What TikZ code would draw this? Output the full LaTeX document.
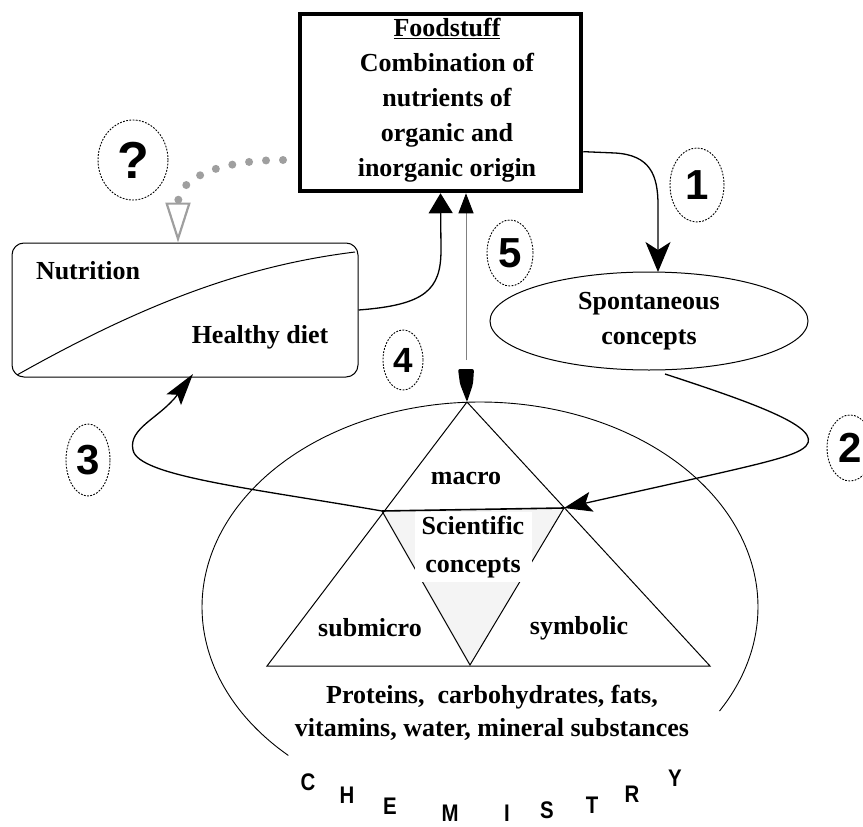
\documentclass[tikz,border=0pt]{standalone}
\usepackage{fontspec}
\setmainfont{Liberation Serif}
\newfontfamily\digitfont{Liberation Sans}
\usetikzlibrary{arrows.meta,shapes.geometric}
\begin{document}
\begin{tikzpicture}[x=1pt,y=-1pt,
  txt/.style={font=\fontsize{26}{34}\selectfont\bfseries, align=center, inner sep=0pt},
  numc/.style={draw, ellipse, dash pattern=on 1.8pt off 1.4pt, line width=0.9pt, inner sep=0pt,
    font=\digitfont\bfseries\fontsize{42}{42}\selectfont},
  conn/.style={line width=1.3pt},
  thinline/.style={line width=1pt},
  chem/.style={font=\digitfont\bfseries\fontsize{24}{24}\selectfont, inner sep=0pt, xscale=0.85}
]
\useasboundingbox (0,0) rectangle (863,827);

% ---- main box
\node[draw, line width=4.5pt, minimum width=281pt, minimum height=177pt, inner sep=0pt] (food) at (440.5,102.5) {};
\node[txt, font=\fontsize{26}{35}\selectfont\bfseries] (foodtext) at (447,100)
  {\underline{Foodstuff}\\Combination of\\nutrients of\\organic and\\inorganic origin};

% ---- nutrition box
\node[draw, rounded corners=12pt, minimum width=346pt, minimum height=134pt, line width=1pt, inner sep=0pt] (nutr) at (185,310) {};
\draw[thinline] (17,375) .. controls (150,300) and (250,265) .. (355,252);
\node[txt] (nutrition) at (88,271) {Nutrition};
\node[txt] (healthy) at (260,337) {Healthy diet};

% ---- spontaneous concepts
\node[draw, ellipse, line width=1pt, minimum width=318pt, minimum height=98pt, inner sep=0pt,
  txt, font=\fontsize{26}{35}\selectfont\bfseries] (spont) at (649,321) {Spontaneous\\concepts};

% ---- numbered circles
\node[numc, minimum width=70pt, minimum height=80pt, font=\digitfont\bfseries\fontsize{52}{52}\selectfont] (cq) at (133,160) {?};
\node[numc, minimum width=54pt, minimum height=74pt] (c1) at (697,185) {1};
\node[numc, minimum width=46pt, minimum height=66pt] (c2) at (850,448) {2};
\node[numc, minimum width=44pt, minimum height=72pt] (c3) at (88,460) {3};
\node[numc, minimum width=40pt, minimum height=60pt, font=\digitfont\bfseries\fontsize{35}{35}\selectfont] (c4) at (403,360) {4};
\node[numc, minimum width=46pt, minimum height=66pt] (c5) at (510,253) {5};

% ---- triangle coordinates
\coordinate (apex) at (467,402);
\coordinate (BL) at (267,666);
\coordinate (BR) at (710,666);
\coordinate (ML) at (382,511);
\coordinate (MR) at (564,508);
\coordinate (MB) at (470,665);

% big ellipse arc (chemistry)
\draw[line width=0.9pt] plot[domain=-30.5:226.4, samples=90, smooth, variable=\t]
  ({480+278*cos(\t)}, {607-205*sin(\t)});

% triangle
\fill[gray!9] (ML) -- (MR) -- (MB) -- cycle;
\draw[thinline] (BL) -- (apex) -- (BR) -- cycle;
\draw[thinline] (ML) -- (MB) -- (MR);
\draw[line width=1.6pt] (ML) -- (MR);
\node[txt, fill=white, minimum width=117pt, minimum height=70pt, font=\fontsize{26}{38}\selectfont\bfseries] (sci) at (473,547) {Scientific\\concepts};
\node[txt] (macro) at (466,478) {macro};
\node[txt] (submicro) at (370,628) {submicro};
\node[txt] (symbolic) at (579,628) {symbolic};
\node[txt, font=\fontsize{26}{33}\selectfont\bfseries] (nutrients) at (492,713)
  {Proteins,\ \ carbohydrates, fats,\\vitamins, water, mineral substances};

% ---- connectors
\coordinate (s1) at (658,272);
\coordinate (s2) at (665,374);
\coordinate (qs) at (283,160);
\coordinate (qtip) at (178,0);
\coordinate (t5) at (466,360);

% 1
\draw[conn, -{Stealth[length=30pt,width=25pt,inset=8pt]}]
  (food.-19.3) -- (615,153) .. controls (650,155) and (658,175) .. (658,205) -- (s1);
% 2
\draw[conn, -{Stealth[length=28pt,width=20pt,inset=6pt]}]
  (s2) .. controls (760,405) and (822,428) .. (806,446) .. controls (795,458) and (750,466) .. (MR);
% 3
\draw[conn, -{Stealth[length=32pt,width=18pt,inset=6pt]}]
  (ML) .. controls (250,488) and (138,476) .. (133,450) .. controls (128,428) and (160,418) .. (193,374);
% 4
\draw[conn, -{Triangle[length=20pt,width=24pt]}]
  (nutr.east) .. controls (425,305) and (441,290) .. (441,250) -- (food.south);
% 5
\draw[line width=1pt, gray, -{Triangle[length=20pt,width=15pt,black]}] (t5) -- (food.south -| t5);
\fill[rounded corners=2pt] (458,369) -- (474,369) -- (473,384) -- (467,402) -- (460,384) -- cycle;
% ?
\draw[gray!75, line width=8pt, line cap=round, dash pattern=on 0pt off 17pt,
  -{Triangle[open,length=40pt,width=25pt,line width=2.2pt,gray!75]}]
  (qs) .. controls (220,160) and (178,178) .. (nutr.north -| qtip);

% ---- CHEMISTRY
\node[chem] (lC) at (308,782) {C};
\node[chem] (lH) at (347,795) {H};
\node[chem] (lE) at (390,806) {E};
\node[chem] (lM) at (450,813) {M};
\node[chem] (lI) at (507,813) {I};
\node[chem] (lS) at (547,810) {S};
\node[chem] (lT) at (592,805) {T};
\node[chem] (lR) at (632,794) {R};
\node[chem] (lY) at (675,778) {Y};
\end{tikzpicture}
\end{document}
